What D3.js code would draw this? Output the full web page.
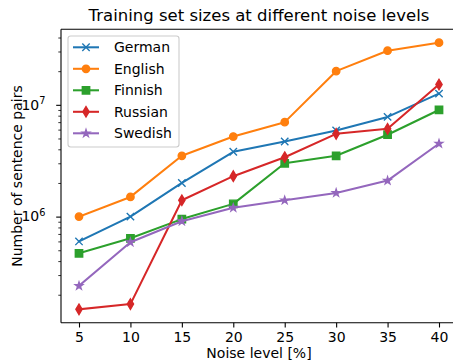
<!DOCTYPE html>
<html>
<head>
<meta charset="utf-8">
<script src="https://cdn.jsdelivr.net/npm/d3@7"></script>
<style>
  html, body { margin: 0; padding: 0; background: #fff; }
  svg { display: block; font-family: "DejaVu Sans", sans-serif; }
</style>
</head>
<body>
<svg id="chart" width="453" height="363"></svg>
<script>
// Noise levels (%) on the x axis
const noiseLevels = [5, 10, 15, 20, 25, 30, 35, 40];
const xTickLabels = ["5", "10", "15", "20", "25", "30", "35", "40"];

// Number of sentence pairs per language
const german  = [6.0e5, 1.0e6, 2.0e6, 3.8e6, 4.7e6, 5.9e6, 7.8e6, 1.26e7];
const english = [1.0e6, 1.5e6, 3.5e6, 5.2e6, 7.0e6, 2.0e7, 3.05e7, 3.6e7];
const finnish = [4.7e5, 6.4e5, 9.5e5, 1.3e6, 3.0e6, 3.5e6, 5.4e6, 9.0e6];
const russian = [1.48e5, 1.65e5, 1.4e6, 2.3e6, 3.4e6, 5.5e6, 6.1e6, 1.52e7];
const swedish = [2.4e5, 5.9e5, 9.1e5, 1.2e6, 1.4e6, 1.63e6, 2.1e6, 4.5e6];

const seriesNames = ["German", "English", "Finnish", "Russian", "Swedish"];
const seriesValues = [german, english, finnish, russian, swedish];
const seriesColors = ["#1f77b4", "#ff7f0e", "#2ca02c", "#d62728", "#9467bd"];
const seriesMarkers = ["x", "circle", "square", "thinDiamond", "star"];

const yMajorTicks = [1e6, 1e7];
const yMajorExp = ["6", "7"];

const svg = d3.select("#chart");
const plot = { left: 61, right: 457, top: 29.3, bottom: 322.7 };

// x limits padded by 5% of the data range
const xMin = d3.min(noiseLevels), xMax = d3.max(noiseLevels);
const xPad = (xMax - xMin) * 0.05;
const x = d3.scaleLinear().domain([xMin - xPad, xMax + xPad]).range([plot.left, plot.right]);

// y limits padded by 5% in log space
const allVals = seriesValues.flat();
const lMin = Math.log10(d3.min(allVals)), lMax = Math.log10(d3.max(allVals));
const lPad = (lMax - lMin) * 0.05;
const y = d3.scaleLog().domain([10 ** (lMin - lPad), 10 ** (lMax + lPad)]).range([plot.bottom, plot.top]);

const MS = 7.4;   // marker size in px
const LW = 2.05;  // line width

function markerPath(kind) {
  const p = d3.path();
  const h = MS / 2;
  if (kind === "circle") {
    p.arc(0, 0, h, 0, 2 * Math.PI);
  } else if (kind === "square") {
    p.rect(-h, -h, MS, MS);
  } else if (kind === "thinDiamond") {
    const d = h * Math.SQRT2;
    const w = d * 0.6;
    p.moveTo(0, -d); p.lineTo(w, 0); p.lineTo(0, d); p.lineTo(-w, 0); p.closePath();
  } else if (kind === "star") {
    const ro = h * 1.05, ri = ro * 0.381966;
    for (let i = 0; i < 10; i++) {
      const r = i % 2 === 0 ? ro : ri;
      const a = -Math.PI / 2 + i * Math.PI / 5;
      const px = r * Math.cos(a), py = r * Math.sin(a);
      if (i === 0) p.moveTo(px, py); else p.lineTo(px, py);
    }
    p.closePath();
  } else if (kind === "x") {
    p.moveTo(-h, -h); p.lineTo(h, h);
    p.moveTo(-h, h); p.lineTo(h, -h);
  }
  return p.toString();
}

function drawMarker(g, kind, color, cx, cy) {
  const m = g.append("path")
    .attr("d", markerPath(kind))
    .attr("transform", `translate(${cx},${cy})`)
    .attr("stroke", color)
    .attr("stroke-width", 1.37)
    .attr("stroke-linejoin", "miter");
  if (kind === "x") m.attr("fill", "none");
  else m.attr("fill", color);
}

// Clip data to the axes area
svg.append("defs").append("clipPath").attr("id", "plotClip")
  .append("rect").attr("x", plot.left).attr("y", plot.top)
  .attr("width", plot.right - plot.left).attr("height", plot.bottom - plot.top);

// Series lines and markers
const dataG = svg.append("g").attr("clip-path", "url(#plotClip)");
const line = d3.line().x(d => x(d[0])).y(d => y(d[1]));
seriesValues.forEach((vals, i) => {
  const pts = noiseLevels.map((n, j) => [n, vals[j]]);
  const g = dataG.append("g");
  g.append("path").datum(pts)
    .attr("d", line)
    .attr("fill", "none")
    .attr("stroke", seriesColors[i])
    .attr("stroke-width", LW)
    .attr("stroke-linejoin", "round")
    .attr("stroke-linecap", "square");
  pts.forEach(pt => drawMarker(g, seriesMarkers[i], seriesColors[i], x(pt[0]), y(pt[1])));
});

// Spines
const spine = svg.append("g").attr("stroke", "#000").attr("stroke-width", 1.1).attr("fill", "none");
spine.append("line").attr("x1", plot.left).attr("x2", plot.left).attr("y1", plot.top).attr("y2", plot.bottom);
spine.append("line").attr("x1", plot.left).attr("x2", plot.right).attr("y1", plot.bottom).attr("y2", plot.bottom);
spine.append("line").attr("x1", plot.left).attr("x2", plot.right).attr("y1", plot.top).attr("y2", plot.top);
spine.append("line").attr("x1", plot.right).attr("x2", plot.right).attr("y1", plot.top).attr("y2", plot.bottom);

const FS = 14;

// X axis
const xAxis = d3.axisBottom(x)
  .tickValues(noiseLevels)
  .tickFormat((d, i) => xTickLabels[i])
  .tickSize(4.8).tickPadding(4.6);
const xg = svg.append("g").attr("transform", `translate(0,${plot.bottom})`).call(xAxis);
xg.select(".domain").remove();
xg.selectAll(".tick line").attr("stroke", "#000").attr("stroke-width", 1.1);
xg.selectAll(".tick text").attr("fill", "#000")
  .style("font-size", FS + "px").style("font-family", "DejaVu Sans");

// Y axis: minor ticks
const [yLo, yHi] = y.domain();
const minorTicks = [];
for (let e = Math.floor(Math.log10(yLo)); e <= Math.ceil(Math.log10(yHi)); e++) {
  for (let k = 2; k <= 9; k++) {
    const v = k * 10 ** e;
    if (v >= yLo && v <= yHi) minorTicks.push(v);
  }
}
const yMinor = d3.axisLeft(y).tickValues(minorTicks).tickFormat("").tickSize(2.7);
const ymg = svg.append("g").attr("transform", `translate(${plot.left},0)`).call(yMinor);
ymg.select(".domain").remove();
ymg.selectAll(".tick line").attr("stroke", "#000").attr("stroke-width", 0.8);

// Y axis: major ticks with power-of-ten labels
const yMajor = d3.axisLeft(y).tickValues(yMajorTicks).tickFormat("").tickSize(4.8);
const yg = svg.append("g").attr("transform", `translate(${plot.left},0)`).call(yMajor);
yg.select(".domain").remove();
yg.selectAll(".tick line").attr("stroke", "#000").attr("stroke-width", 1.1);
yMajorTicks.forEach((v, i) => {
  const t = svg.append("text")
    .attr("x", 45.5).attr("y", y(v) + 4.8)
    .attr("text-anchor", "end")
    .style("font-size", FS + "px").attr("fill", "#000");
  t.append("tspan").text("10");
  t.append("tspan").text(yMajorExp[i]).attr("dy", -5.2).style("font-size", "9.8px");
});

// Axis labels and title
svg.append("text")
  .attr("x", (plot.left + plot.right) / 2).attr("y", 358)
  .attr("text-anchor", "middle").style("font-size", FS + "px").attr("fill", "#000")
  .text("Noise level [%]");
svg.append("text")
  .attr("transform", `translate(22.3,${(plot.top + plot.bottom) / 2}) rotate(-90)`)
  .attr("text-anchor", "middle").style("font-size", FS + "px").attr("fill", "#000")
  .text("Number of sentence pairs");
svg.append("text")
  .attr("x", (plot.left + plot.right) / 2).attr("y", 21)
  .attr("text-anchor", "middle").style("font-size", "16.5px").attr("fill", "#000")
  .text("Training set sizes at different noise levels");

// Legend
const lg = svg.append("g");
lg.append("rect")
  .attr("x", 68).attr("y", 36).attr("width", 111).attr("height", 111)
  .attr("rx", 2.7).attr("ry", 2.7)
  .attr("fill", "#fff").attr("fill-opacity", 0.8)
  .attr("stroke", "#ccc").attr("stroke-width", 1.1);
seriesNames.forEach((name, i) => {
  const cy = 47.3 + i * 21.5;
  lg.append("line")
    .attr("x1", 73).attr("x2", 99).attr("y1", cy).attr("y2", cy)
    .attr("stroke", seriesColors[i]).attr("stroke-width", LW);
  drawMarker(lg, seriesMarkers[i], seriesColors[i], 86, cy);
  lg.append("text")
    .attr("x", 114).attr("y", cy + 5)
    .style("font-size", FS + "px").attr("fill", "#000")
    .text(name);
});
</script>
</body>
</html>
